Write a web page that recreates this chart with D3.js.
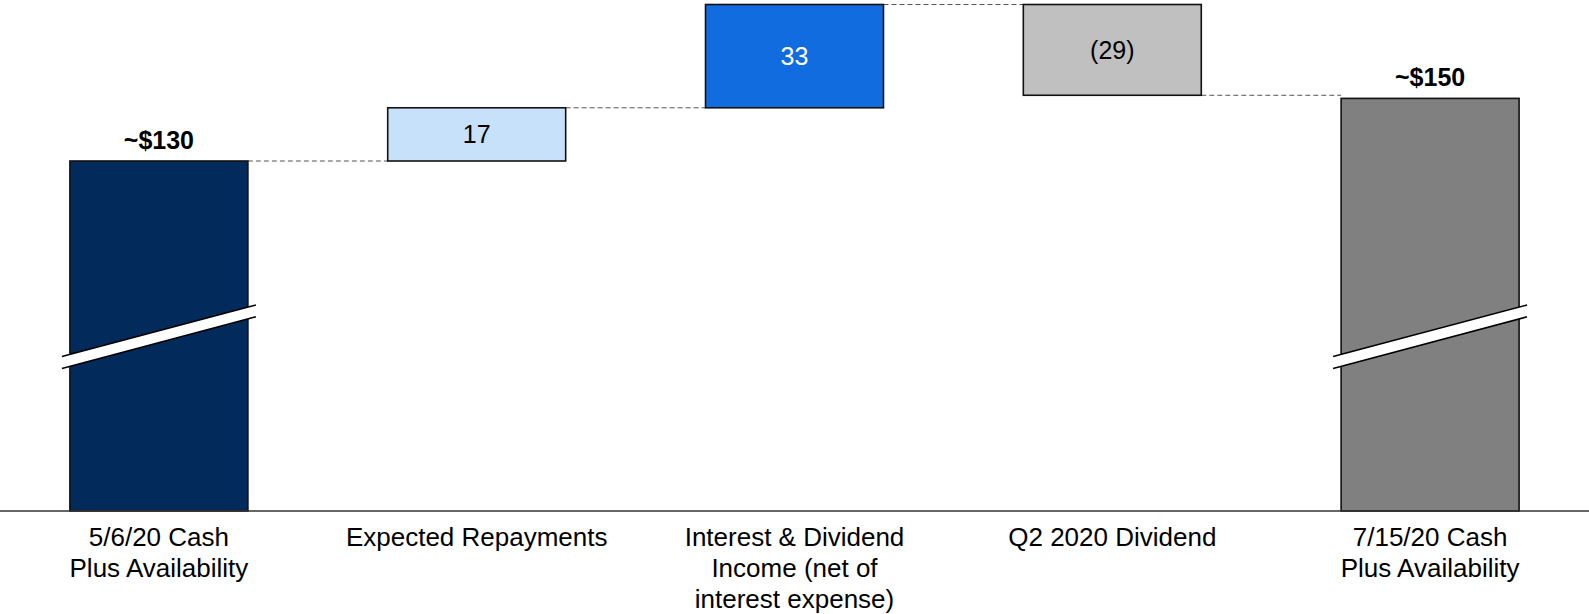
<!DOCTYPE html>
<html>
<head>
<meta charset="utf-8">
<script src="https://cdn.jsdelivr.net/npm/d3@7"></script>
<style>
  html, body { margin: 0; padding: 0; background: #fff; }
  svg { display: block; }
  text { font-family: "Liberation Sans", Arial, sans-serif; }
</style>
</head>
<body>
<svg id="chart" width="1589" height="614"></svg>
<script>
// Liquidity bridge ($ millions)
const categories = [
  ["5/6/20 Cash", "Plus Availability"],
  ["Expected Repayments"],
  ["Interest & Dividend", "Income (net of", "interest expense)"],
  ["Q2 2020 Dividend"],
  ["7/15/20 Cash", "Plus Availability"]
];
const kinds = ["total", "delta", "delta", "delta", "total"];
const values = [130, 17, 33, -29, 150];
const valueLabels = ["~$130", "17", "33", "(29)", "~$150"];
const barColors = ["#022a5b", "#c7e1fa", "#116ce0", "#c0c0c0", "#808080"];
const labelColors = ["#000", "#000", "#fff", "#000", "#000"];

const W = 1589, H = 614;
const baseY = 511;

const svg = d3.select("#chart");

const x = d3.scaleBand()
  .domain(d3.range(categories.length))
  .range([0, W])
  .paddingInner(0.44)
  .paddingOuter(0.22);

// Broken value axis: only the upper part of the range is shown to scale
const y = d3.scaleLinear().domain([130, 180]).range([161, 4.5]);

// Build waterfall segments
let running = 0;
const bars = values.map((v, i) => {
  let y0, y1, level;
  if (kinds[i] === "total") {
    y0 = baseY; y1 = y(v); level = v; running = v;
  } else {
    const from = running, to = running + v;
    y0 = y(Math.min(from, to)); y1 = y(Math.max(from, to));
    running = to; level = to;
  }
  return { i, v, kind: kinds[i], top: Math.min(y0, y1), bottom: Math.max(y0, y1), level };
});

// Dashed connectors between consecutive bars
const connectors = bars.slice(0, -1).map((b, k) => ({
  x1: x(k) + x.bandwidth(),
  x2: x(k + 1),
  y: y(b.level)
}));
svg.append("g").selectAll("line").data(connectors).join("line")
  .attr("x1", d => d.x1).attr("x2", d => d.x2)
  .attr("y1", d => d.y).attr("y2", d => d.y)
  .attr("stroke", "#555").attr("stroke-width", 1)
  .attr("stroke-dasharray", "5,3");

// Bars
svg.append("g").selectAll("rect").data(bars).join("rect")
  .attr("x", d => x(d.i))
  .attr("y", d => d.top)
  .attr("width", x.bandwidth())
  .attr("height", d => d.bottom - d.top)
  .attr("fill", d => barColors[d.i])
  .attr("stroke", "#111")
  .attr("stroke-width", 1.6);

// Axis-break marks on the total bars
const breakG = svg.append("g");
bars.filter(d => d.kind === "total").forEach(d => {
  const cx = x(d.i) + x.bandwidth() / 2;
  const cy = 336.7, hw = x.bandwidth() / 2 + 8, rise = 25.8, ht = 5.9;
  const pts = [
    [cx - hw, cy + rise - ht], [cx + hw, cy - rise - ht],
    [cx + hw, cy - rise + ht], [cx - hw, cy + rise + ht]
  ];
  breakG.append("polygon")
    .attr("points", pts.map(p => p.join(",")).join(" "))
    .attr("fill", "#fff");
  [[pts[0], pts[1]], [pts[3], pts[2]]].forEach(([a, b]) => {
    breakG.append("line")
      .attr("x1", a[0]).attr("y1", a[1]).attr("x2", b[0]).attr("y2", b[1])
      .attr("stroke", "#000").attr("stroke-width", 1.6);
  });
});

// Baseline
svg.append("line")
  .attr("x1", 0).attr("x2", W)
  .attr("y1", baseY).attr("y2", baseY)
  .attr("stroke", "#333").attr("stroke-width", 1.6);

// Value labels
svg.append("g").selectAll("text").data(bars).join("text")
  .attr("x", d => x(d.i) + x.bandwidth() / 2)
  .attr("y", d => d.kind === "total" ? d.top - 12 : (d.top + d.bottom) / 2)
  .attr("dy", d => d.kind === "total" ? 0 : "0.35em")
  .attr("text-anchor", "middle")
  .attr("font-size", 25)
  .attr("font-weight", d => d.kind === "total" ? "bold" : "normal")
  .attr("fill", d => labelColors[d.i])
  .text(d => valueLabels[d.i]);

// Category labels
const catG = svg.append("g");
categories.forEach((lines, i) => {
  const t = catG.append("text")
    .attr("x", x(i) + x.bandwidth() / 2)
    .attr("y", 546)
    .attr("text-anchor", "middle")
    .attr("font-size", 26)
    .attr("fill", "#000");
  lines.forEach((ln, j) => {
    t.append("tspan")
      .attr("x", x(i) + x.bandwidth() / 2)
      .attr("dy", j === 0 ? 0 : 31)
      .text(ln);
  });
});
</script>
</body>
</html>
